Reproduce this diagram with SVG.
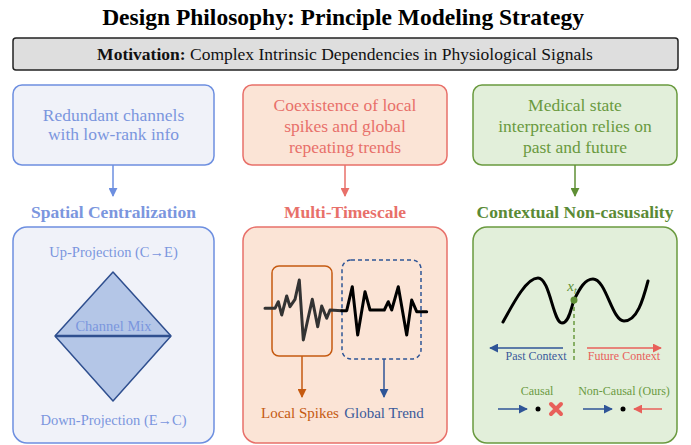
<svg xmlns="http://www.w3.org/2000/svg" width="691" height="445" viewBox="0 0 691 445" font-family="'Liberation Serif', 'Times New Roman', Tinos, 'DejaVu Serif', serif">
  <style>
    text { font-family: 'Liberation Serif', 'Times New Roman', Tinos, 'DejaVu Serif', serif; text-anchor: middle; }
    .title { font-size: 23.5px; font-weight: bold; fill: #000; }
    .motiv { font-size: 17.5px; fill: #111; }
    .desc { font-size: 17.5px; }
    .head { font-size: 17.5px; font-weight: bold; }
    .small { font-size: 14.5px; }
    .tiny { font-size: 12px; }
    .lab { font-size: 12px; }
    .blue .box { fill: #f0f2f9; stroke: #6d8fe0; stroke-width: 1.5; }
    .blue text { fill: #7b96de; }
    .red .box { fill: #fbe4d6; stroke: #e8706a; stroke-width: 1.5; }
    .red text { fill: #e8706a; }
    .green .box { fill: #e2efda; stroke: #6a9a3f; stroke-width: 1.5; }
    .green text { fill: #6a9a3f; }
    .sig { fill: none; stroke-width: 3; stroke-linejoin: round; stroke-linecap: round; }
  </style>
  <defs>
    <marker id="ahBlue" viewBox="0 0 10 10" refX="9" refY="5" markerWidth="9" markerHeight="9" markerUnits="userSpaceOnUse" orient="auto">
      <path d="M0,0 L10,5 L0,10 z" fill="#6d8fe0"/>
    </marker>
    <marker id="ahRed" viewBox="0 0 10 10" refX="9" refY="5" markerWidth="9" markerHeight="9" markerUnits="userSpaceOnUse" orient="auto">
      <path d="M0,0 L10,5 L0,10 z" fill="#e8706a"/>
    </marker>
    <marker id="ahGreen" viewBox="0 0 10 10" refX="9" refY="5" markerWidth="9" markerHeight="9" markerUnits="userSpaceOnUse" orient="auto">
      <path d="M0,0 L10,5 L0,10 z" fill="#5f8f35"/>
    </marker>
    <marker id="ahOrange" viewBox="0 0 10 10" refX="9" refY="5" markerWidth="9" markerHeight="9" markerUnits="userSpaceOnUse" orient="auto">
      <path d="M0,0 L10,5 L0,10 z" fill="#c55a11"/>
    </marker>
    <marker id="ahNavy" viewBox="0 0 10 10" refX="9" refY="5" markerWidth="9" markerHeight="9" markerUnits="userSpaceOnUse" orient="auto">
      <path d="M0,0 L10,5 L0,10 z" fill="#2f5597"/>
    </marker>
    <marker id="ahSalmon" viewBox="0 0 10 10" refX="9" refY="5" markerWidth="9" markerHeight="9" markerUnits="userSpaceOnUse" orient="auto">
      <path d="M0,0 L10,5 L0,10 z" fill="#e8605a"/>
    </marker>
  </defs>

  <!-- heading -->
  <text class="title" x="343" y="25">Design Philosophy: Principle Modeling Strategy</text>

  <g id="motivation">
    <rect x="13" y="38" width="665" height="32" rx="3" fill="#dedede" stroke="#222" stroke-width="1.5"/>
    <text class="motiv" x="345" y="60">
      <tspan font-weight="bold">Motivation:</tspan> Complex Intrinsic Dependencies in Physiological Signals</text>
  </g>

  <!-- column 1 -->
  <g id="redundant" class="blue">
    <rect class="box" x="13" y="85" width="201" height="80" rx="9"/>
    <text class="desc" x="113.5" y="121">Redundant channels</text>
    <text class="desc" x="113.5" y="140">with low-rank info</text>
  </g>
  <g id="spatial" class="blue">
    <text class="head" x="113.5" y="218">Spatial Centralization</text>
    <rect class="box" x="13" y="227" width="201" height="216" rx="14"/>
    <text class="small" x="113.5" y="257">Up-Projection (C→E)</text>
    <path d="M113,272 L171,336 L113,401 L55,336 Z" fill="#b4c6e7" stroke="#2f4f8f" stroke-width="1.5" stroke-linejoin="round"/>
    <line x1="55" y1="336" x2="171" y2="336" stroke="#2f4f8f" stroke-width="2.5"/>
    <text class="small" x="113.5" y="331">Channel Mix</text>
    <text class="small" x="113.5" y="425">Down-Projection (E→C)</text>
  </g>

  <!-- column 2 -->
  <g id="coexistence" class="red">
    <rect class="box" x="243" y="85" width="204" height="80" rx="9"/>
    <text class="desc" x="345" y="111">Coexistence of local</text>
    <text class="desc" x="345" y="132">spikes and global</text>
    <text class="desc" x="345" y="153">repeating trends</text>
  </g>
  <g id="multiscale" class="red">
    <text class="head" x="345" y="218">Multi-Timescale</text>
    <rect class="box" x="243" y="227" width="204" height="216" rx="14"/>
    <rect x="272" y="266" width="60" height="90" rx="7" fill="none" stroke="#c55a11" stroke-width="1.5"/>
    <rect x="342" y="260" width="79" height="99" rx="9" fill="none" stroke="#2f5597" stroke-width="1.5" stroke-dasharray="4,3"/>
    <polyline class="sig" stroke="#333" points="265,308.3 275,308.3 278.3,301.7 281.7,315 286.7,296 290,306.7 295,299.3 299.3,280 303.3,340 307.7,320 312.3,299.3 317.7,326.7 321.7,306 326.7,318.3 330,310 341.7,310.7"/>
    <polyline class="sig" stroke="#000" points="341.7,310.7 346.7,310.7 352.3,286.7 357.7,335 365,291.7 370,310 384.3,310 388.3,301.7 391.7,310 398.3,286.7 406.7,335 411.7,300 416.7,311.7 426.7,311.7"/>
    <line x1="302" y1="356" x2="302" y2="397" stroke="#c55a11" stroke-width="1.5" marker-end="url(#ahOrange)"/>
    <line x1="384" y1="359" x2="384" y2="397" stroke="#2f5597" stroke-width="1.5" marker-end="url(#ahNavy)"/>
    <text x="300" y="418" style="font-size:15px;fill:#c55a11">Local Spikes</text>
    <text x="384" y="418" style="font-size:15px;fill:#3a5a9a">Global Trend</text>
  </g>

  <!-- column 3 -->
  <g id="medical" class="green">
    <rect class="box" x="473" y="85" width="204" height="80" rx="9"/>
    <text class="desc" x="575" y="111">Medical state</text>
    <text class="desc" x="575" y="132">interpreation relies on</text>
    <text class="desc" x="575" y="153">past and future</text>
  </g>
  <g id="noncausal" class="green">
    <text class="head" x="575" y="218" style="fill:#5a8a35">Contextual Non-casusality</text>
    <rect class="box" x="473" y="227" width="204" height="216" rx="14"/>
    <path class="sig" stroke="#000" d="M503,322 C515,300 527,278 538,278 C550,278 553,323 562,323 C569,323 571,308 574,300 C580,288 585,279 593,279 C606,279 612,321 624,321 C637,321 643,300 648,281"/>
    <line x1="574" y1="300" x2="574" y2="363" stroke="#6a9a3f" stroke-width="1.5" stroke-dasharray="4,3"/>
    <circle cx="574" cy="300" r="3.5" fill="#5f8f35"/>
    <text x="572" y="291" style="font-style:italic;font-size:15px;fill:#5f8f35">x<tspan dy="3" font-size="10">t</tspan></text>
    <line x1="563" y1="348" x2="490" y2="348" stroke="#2f5597" stroke-width="1.5" marker-end="url(#ahNavy)"/>
    <line x1="587" y1="348" x2="661" y2="348" stroke="#e8605a" stroke-width="1.5" marker-end="url(#ahSalmon)"/>
    <text class="tiny" x="536" y="360" style="fill:#3a5a9a">Past Context</text>
    <text class="tiny" x="624" y="360" style="fill:#e8605a">Future Context</text>
    <text class="lab" x="537" y="395">Causal</text>
    <text class="lab" x="624" y="395">Non-Causal (Ours)</text>
    <line x1="498" y1="409" x2="527" y2="409" stroke="#2f5597" stroke-width="1.5" marker-end="url(#ahNavy)"/>
    <circle cx="538" cy="409" r="2.5" fill="#000"/>
    <path d="M551,404 L561,414 M561,404 L551,414" stroke="#e8605a" stroke-width="4" stroke-linecap="round"/>
    <line x1="583" y1="409" x2="612" y2="409" stroke="#2f5597" stroke-width="1.5" marker-end="url(#ahNavy)"/>
    <circle cx="623" cy="409" r="2.5" fill="#000"/>
    <line x1="662" y1="409" x2="634" y2="409" stroke="#e8605a" stroke-width="1.5" marker-end="url(#ahSalmon)"/>
  </g>

  <!-- connectors from motivation boxes to strategy headings -->
  <g id="connectors">
    <line x1="113" y1="165" x2="113" y2="196" stroke="#6d8fe0" stroke-width="1.5" marker-end="url(#ahBlue)"/>
    <line x1="345" y1="165" x2="345" y2="196" stroke="#e8706a" stroke-width="1.5" marker-end="url(#ahRed)"/>
    <line x1="575" y1="165" x2="575" y2="196" stroke="#5f8f35" stroke-width="1.5" marker-end="url(#ahGreen)"/>
  </g>
</svg>
